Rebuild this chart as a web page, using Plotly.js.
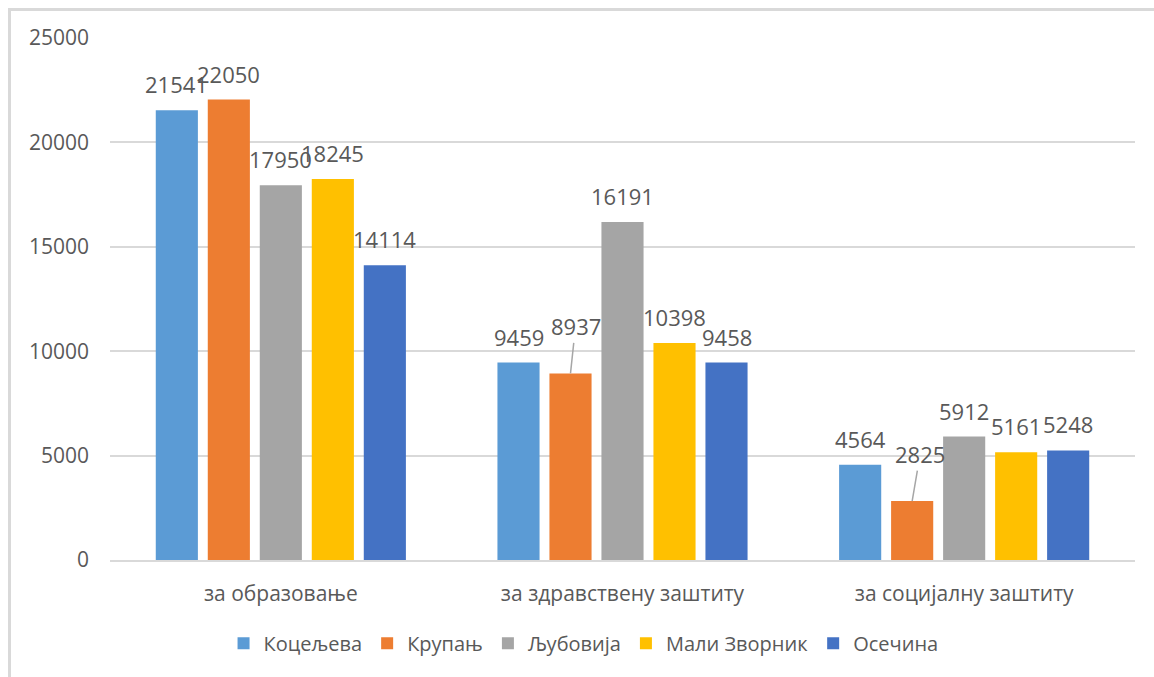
<!DOCTYPE html>
<html>
<head>
<meta charset="utf-8">
<script src="https://cdn.plot.ly/plotly-3.0.1.min.js"></script>
<style>
  html, body { margin: 0; padding: 0; background: #fff; }
  #wrap { position: relative; width: 1154px; height: 677px; overflow: hidden; }
  #chart { position: absolute; left: 0; top: 0; width: 1154px; height: 677px; }
  #frame { position: absolute; left: 8px; top: 8px; width: 1160px; height: 680px;
           border-left: 3px solid #D9D9D9; border-top: 3px solid #D9D9D9; pointer-events: none; }
</style>
</head>
<body>
<div id="wrap">
  <div id="chart"></div>
  <div id="frame"></div>
</div>
<script>
// ---- data ----
const categories = ['за образовање', 'за здравствену заштиту', 'за социјалну заштиту'];
const seriesNames = ['Коцељева', 'Крупањ', 'Љубовија', 'Мали Зворник', 'Осечина'];
const kocjeljeva   = [21541, 9459, 4564];
const krupanj      = [22050, 8937, 2825];
const ljubovija    = [17950, 16191, 5912];
const maliZvornik  = [18245, 10398, 5161];
const osecina      = [14114, 9458, 5248];
const seriesValues = [kocjeljeva, krupanj, ljubovija, maliZvornik, osecina];
const yTickVals = [0, 5000, 10000, 15000, 20000, 25000];

// ---- style ----
const colors = ['#5B9BD5', '#ED7D31', '#A5A5A5', '#FFC000', '#4472C4'];
const textColor = '#595959';
const fontFamily = '"Open Sans", "Liberation Sans", sans-serif';
const bargap = 0.239;
// label leader-line offsets (series index, category index) -> [ax, ay] in px
const leaderLabels = { '1_1': [5, -47], '1_2': [8, -47] };

const traces = seriesValues.map((vals, i) => ({
  type: 'bar',
  name: seriesNames[i],
  x: categories,
  y: vals,
  marker: { color: colors[i] },
  hoverinfo: 'x+y+name'
}));

const nS = seriesValues.length;
const slot = (1 - bargap) / nS;
const annotations = [];
seriesValues.forEach((vals, i) => {
  vals.forEach((v, j) => {
    const key = i + '_' + j;
    const xpos = j + (i - (nS - 1) / 2) * slot;
    if (leaderLabels[key]) {
      annotations.push({
        x: xpos, y: v, xref: 'x', yref: 'y',
        text: String(v),
        showarrow: true, arrowhead: 0, arrowwidth: 1.5, arrowcolor: '#A6A6A6',
        ax: leaderLabels[key][0], ay: leaderLabels[key][1], standoff: 0,
        font: { family: fontFamily, size: 22, color: textColor }
      });
    } else {
      annotations.push({
        x: xpos, y: v, xref: 'x', yref: 'y',
        text: String(v),
        showarrow: false, yanchor: 'bottom', yshift: 9,
        font: { family: fontFamily, size: 22, color: textColor }
      });
    }
  });
});

const layout = {
  width: 1154, height: 677,
  margin: { l: 110, r: 19, t: 38, b: 117 },
  paper_bgcolor: '#ffffff', plot_bgcolor: '#ffffff',
  barmode: 'group', bargap: bargap, bargroupgap: 0.19,
  font: { family: fontFamily, size: 20, color: textColor },
  xaxis: {
    type: 'category',
    showgrid: false,
    showline: true, linecolor: '#D9D9D9', linewidth: 2,
    ticks: '', ticklabelstandoff: 14,
    tickfont: { family: fontFamily, size: 21, color: textColor },
    fixedrange: true
  },
  yaxis: {
    range: [0, 25000],
    tickmode: 'array', tickvals: yTickVals, ticktext: yTickVals.map(String),
    showgrid: true, gridcolor: '#D9D9D9', gridwidth: 2,
    zeroline: false, showline: false,
    ticks: '', ticklabelstandoff: 20,
    tickfont: { family: fontFamily, size: 21, color: textColor },
    fixedrange: true
  },
  showlegend: true,
  legend: {
    orientation: 'h', x: 0.462, xanchor: 'center', y: -0.122, yanchor: 'top',
    font: { family: fontFamily, size: 20, color: textColor },
    itemwidth: 30, tracegroupgap: 0, traceorder: 'normal'
  },
  annotations: annotations
};

Plotly.newPlot('chart', traces, layout, { displayModeBar: false, staticPlot: true });
</script>
</body>
</html>
